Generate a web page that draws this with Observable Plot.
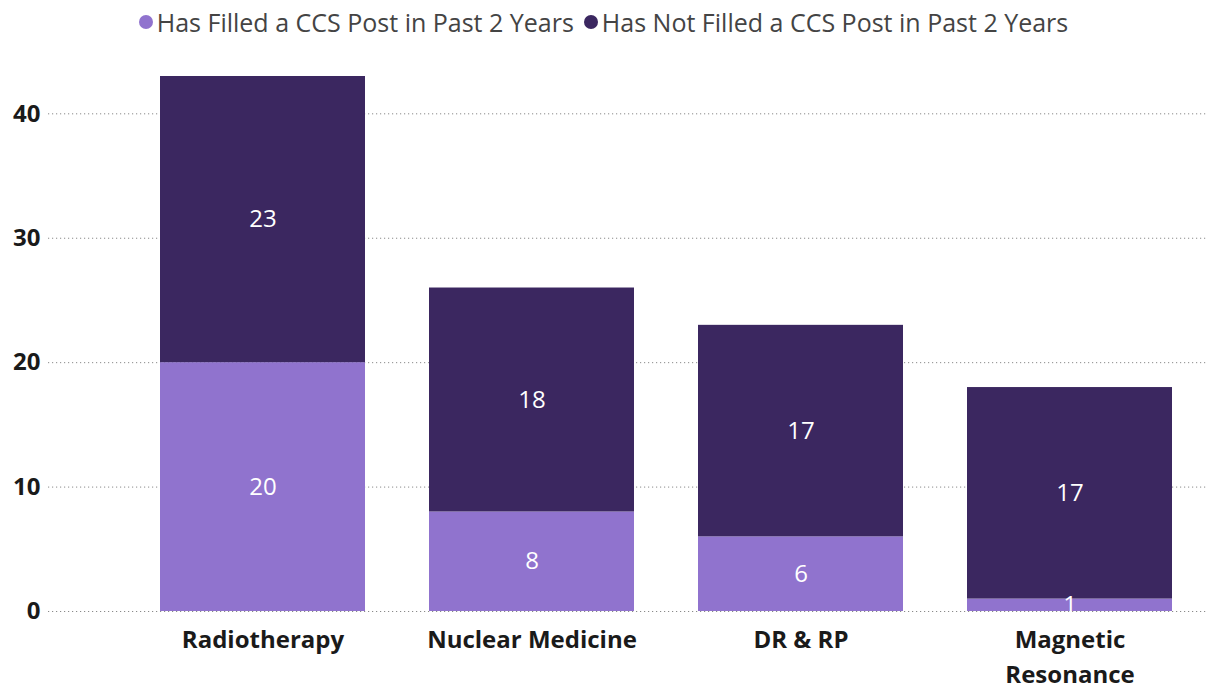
<!DOCTYPE html>
<html>
<head>
<meta charset="utf-8">
<script src="https://cdn.jsdelivr.net/npm/d3@7"></script>
<script src="https://cdn.jsdelivr.net/npm/@observablehq/plot@0.6"></script>
<style>
  html, body { margin: 0; padding: 0; background: #fff; }
  body { width: 1207px; height: 691px; overflow: hidden; font-family: "Open Sans", sans-serif; }
  #legend { height: 44px; display: flex; justify-content: center; align-items: center; gap: 10px; font-size: 25px; color: #444; padding-left: 0px; box-sizing: border-box; }
  #legend .item { display: flex; align-items: center; gap: 4px; }
  #legend .dot { width: 14px; height: 14px; border-radius: 50%; display: inline-block; }
</style>
</head>
<body>
<div id="legend"></div>
<div id="chart"></div>
<script>
const categories = ["Radiotherapy", "Nuclear Medicine", "DR & RP", "Magnetic Resonance"];
const seriesNames = ["Has Filled a CCS Post in Past 2 Years", "Has Not Filled a CCS Post in Past 2 Years"];
const filled = [20, 8, 6, 1];
const notFilled = [23, 18, 17, 17];
const colors = ["#9073CE", "#3B2760"];
const yTicks = [0, 10, 20, 30, 40];

const rows = [];
categories.forEach((c, i) => rows.push({category: c, series: seriesNames[0], value: filled[i]}));
categories.forEach((c, i) => rows.push({category: c, series: seriesNames[1], value: notFilled[i]}));

const legend = document.getElementById("legend");
seriesNames.forEach((s, i) => {
  const it = document.createElement("span");
  it.className = "item";
  it.innerHTML = `<span class="dot" style="background:${colors[i]}"></span><span>${s}</span>`;
  legend.appendChild(it);
});

const chart = Plot.plot({
  width: 1207,
  height: 647,
  marginLeft: 48,
  marginRight: 0,
  marginTop: 32,
  marginBottom: 80,
  style: {fontFamily: "Open Sans, sans-serif", background: "#fff"},
  x: {domain: categories, paddingInner: 0.238, paddingOuter: 0.273, align: 0.762, label: null},
  y: {domain: [0, 43], label: null},
  color: {domain: seriesNames, range: colors},
  marks: [
    Plot.gridY(yTicks, {stroke: "#8a8a8a", strokeOpacity: 1, strokeDasharray: "1.2,2.8", strokeWidth: 1}),
    Plot.barY(rows, Plot.stackY({x: "category", y: "value", fill: "series", z: "series"})),
    Plot.text(rows, Plot.stackY({x: "category", y: "value", z: "series", text: d => String(d.value), fill: "white", fontSize: 24})),
    Plot.axisY(yTicks, {tickSize: 0, tickPadding: 8, fontSize: 24, fontWeight: "bold", fill: "#1a1a1a", label: null}),
    Plot.axisX({tickSize: 0, tickPadding: 12, fontSize: 24, fontWeight: "bold", fill: "#1a1a1a", label: null,
      tickFormat: d => d === "Magnetic Resonance" ? "Magnetic\nResonance" : d, lineHeight: 1.45})
  ]
});
document.getElementById("chart").appendChild(chart);
</script>
</body>
</html>
